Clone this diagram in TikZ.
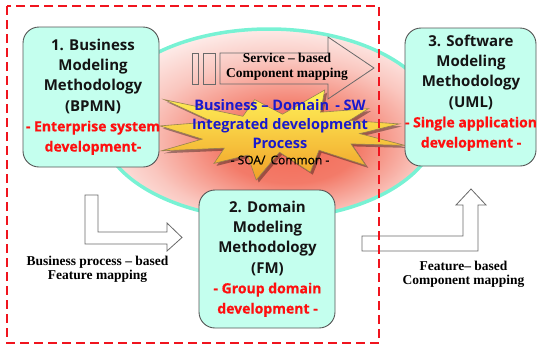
\documentclass[tikz,border=0pt]{standalone}
\usepackage{fontspec}
\setmainfont{Open Sans}
\newfontfamily\semisans{Open Sans}[FakeBold=0.6]
\newfontfamily\tnr{Liberation Serif}
\usetikzlibrary{shapes.geometric,shadows}
\definecolor{boxfill}{RGB}{196,255,238}
\definecolor{boxline}{RGB}{85,85,85}
\definecolor{ellline}{RGB}{120,242,212}
\definecolor{glowc}{RGB}{242,108,88}
\definecolor{starA}{RGB}{255,244,90}
\definecolor{starB}{RGB}{240,160,40}
\definecolor{starline}{RGB}{150,130,80}
\definecolor{titleblue}{RGB}{25,25,205}
\definecolor{dashred}{RGB}{240,20,30}
\definecolor{txtred}{RGB}{255,15,15}
\definecolor{arrline}{RGB}{105,105,105}
\pgfdeclareradialshading{glow}{\pgfpoint{4bp}{-7bp}}{color(0bp)=(glowc); color(10bp)=(glowc!90!white); color(21bp)=(glowc!38!white); color(30bp)=(glowc!8!white); color(50bp)=(white)}
\newcommand\redtxt{\semisans\fontsize{14}{19}\selectfont\color{txtred}}
\begin{document}
\begin{tikzpicture}[x=1pt,y=-1pt,
  modelbox/.style={draw=boxline, line width=0.9pt, fill=boxfill, rounded corners=16pt, inner sep=0pt},
  boxtext/.style={align=center, font=\fontsize{15}{20.2}\selectfont\bfseries, text=black!92, inner sep=0pt},
  blockarrow/.style={draw=arrline, line width=0.8pt, line join=miter},
  maplabel/.style={align=center, font=\tnr\bfseries\fontsize{13.5}{14.5}\selectfont, inner sep=0pt},
  frame/.style={draw=dashred, line width=2.6pt, dash pattern=on 9pt off 5pt}]
\useasboundingbox (0,0) rectangle (537,346);

% glowing ellipse
\node[ellipse, draw=ellline, line width=3.5pt, shade, shading=glow,
      minimum width=338pt, minimum height=190pt, inner sep=0pt] (ring) at (269,124) {};

% service-based arrow (striped tail)
\draw[blockarrow] (192,53) rectangle (198,84);
\draw[blockarrow] (203,53) rectangle (215,84);
\draw[blockarrow] (220,53) -- (328,53) -- (328,37) -- (374,68) -- (328,99) -- (328,84) -- (220,84) -- cycle;
\node[maplabel] (svc) at (287,67) {Service – based\\Component mapping};

% starburst
\path[draw=starline, line width=0.6pt, top color=starA, bottom color=starB,
      drop shadow={shadow xshift=2.5pt, shadow yshift=-2.5pt, opacity=0.35, fill=black}]
  (282.5,114.2) -- (324.7,90) -- (320.6,112.2) -- (368.5,108.6) -- (349.4,120.5)
  -- (399.3,123.9) -- (359.7,133.6) -- (405,145.4) -- (351,143.9) -- (365.8,165.4)
  -- (319,150.2) -- (310.3,172.2) -- (279.5,152.2) -- (256.2,180) -- (247.5,155.1)
  -- (214,163.4) -- (224.3,148.1) -- (161.5,150.8) -- (202.2,139.1) -- (160,125.9)
  -- (212.5,121.7) -- (164.2,99.6) -- (242.9,116.3) -- (254.7,99.6) -- cycle;
\node[align=center, inner sep=0pt, text=titleblue, font=\fontsize{14.5}{19}\selectfont\bfseries] (core) at (280,124)
  {Business – Domain \,- SW\\Integrated development\\Process};
\node[inner sep=0pt, font=\semisans\fontsize{12}{14}\selectfont] (soa) at (280,160) {- SOA/ \,Common -};

% model boxes
\node[modelbox, minimum width=136pt, minimum height=140pt] (b1) at (91,97) {};
\node[boxtext] (t1) at (93,97) {1. Business\\Modeling\\Methodology\\(BPMN)\\\redtxt - Enterprise system\\\redtxt development-};
\node[modelbox, minimum width=136pt, minimum height=138pt] (b2) at (267,259) {};
\node[boxtext] (t2) at (267.5,259) {2. Domain\\Modeling\\Methodology\\(FM)\\\redtxt - Group domain\\\redtxt development -};
\node[modelbox, minimum width=131pt, minimum height=138pt] (b3) at (470.5,97) {};
\node[boxtext] (t3) at (471,93) {3. Software\\Modeling\\Methodology\\(UML)\\\redtxt - Single application\\\redtxt development -};

% business process arrow
\draw[blockarrow, fill=white] (85,195) -- (98,195) -- (98,232) -- (167,232) -- (167,223) -- (182,237.5)
  -- (167,251) -- (167,244) -- (85,244) -- cycle;
\node[maplabel] (bpl) at (97.5,269.5) {Business process – based\\Feature mapping};

% feature arrow
\draw[blockarrow, fill=white] (362,236) -- (463,236) -- (463,205) -- (456,205) -- (471,189) -- (486,205)
  -- (478,205) -- (478,251) -- (362,251) -- cycle;
\node[maplabel] (fcl) at (463.5,274.5) {Feature– based\\Component mapping};

% dashed frame
\draw[frame] (7,6) rectangle (379,343);
\end{tikzpicture}
\end{document}
